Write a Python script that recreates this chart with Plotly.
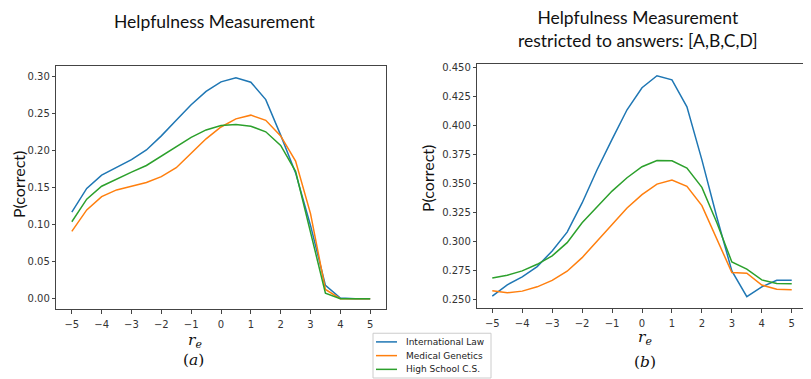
import plotly.graph_objects as go

# r_e values (x axis), same for both panels
r_e = [-5, -4.5, -4, -3.5, -3, -2.5, -2, -1.5, -1, -0.5, 0, 0.5, 1, 1.5, 2, 2.5, 3, 3.5, 4, 4.5, 5]

# (a) Helpfulness Measurement
law_a = [0.117, 0.149, 0.167, 0.177, 0.188, 0.201, 0.220, 0.241, 0.262, 0.280, 0.293,
         0.2985, 0.2925, 0.269, 0.221, 0.170, 0.099, 0.018, 0.001, 0.0, 0.0]
gen_a = [0.091, 0.120, 0.138, 0.147, 0.152, 0.157, 0.165, 0.177, 0.1965, 0.216, 0.232,
         0.243, 0.248, 0.241, 0.220, 0.186, 0.115, 0.0125, 0.0, 0.0, 0.0]
cs_a = [0.104, 0.1345, 0.152, 0.162, 0.171, 0.180, 0.193, 0.206, 0.218, 0.228, 0.234,
        0.2355, 0.233, 0.2255, 0.207, 0.172, 0.090, 0.0076, 0.0, 0.0, 0.0]

# (b) restricted to answers [A,B,C,D]
law_b = [0.2531, 0.2628, 0.2697, 0.2785, 0.292, 0.3082, 0.3333, 0.3619, 0.388, 0.4135, 0.4325,
         0.4428, 0.4393, 0.416, 0.3704, 0.321, 0.2748, 0.2526, 0.2611, 0.2668, 0.2668]
gen_b = [0.2577, 0.256, 0.2574, 0.2611, 0.2666, 0.2745, 0.2862, 0.3005, 0.315, 0.329, 0.3405,
         0.3495, 0.3531, 0.3476, 0.331, 0.302, 0.2734, 0.2728, 0.2626, 0.2591, 0.2586]
cs_b = [0.2686, 0.2711, 0.2748, 0.2805, 0.2877, 0.2991, 0.3162, 0.330, 0.3435, 0.355, 0.3645,
        0.3698, 0.3696, 0.3633, 0.3467, 0.3162, 0.2825, 0.2763, 0.2671, 0.264, 0.2637]

names = ["International Law", "Medical Genetics", "High School C.S."]
colors = ["#1f77b4", "#ff7f0e", "#2ca02c"]

fig = go.Figure()
for ys, name, c in zip([law_a, gen_a, cs_a], names, colors):
    fig.add_trace(go.Scatter(x=r_e, y=ys, mode="lines", name=name,
                             line=dict(color=c, width=1.5), xaxis="x", yaxis="y"))
for ys, name, c in zip([law_b, gen_b, cs_b], names, colors):
    fig.add_trace(go.Scatter(x=r_e, y=ys, mode="lines", name=name,
                             line=dict(color=c, width=1.5), xaxis="x2", yaxis="y2"))

# the page body has an 8px margin, so the figure is 8px smaller and positions are shifted
OFF = 8
W, H = 811 - OFF, 379 - OFF


def px(x):
    return (x - OFF) / W


def py(y):
    return 1 - (y - OFF) / H


axis_style = dict(showline=True, mirror=True, linecolor="#444", linewidth=1,
                  ticks="outside", ticklen=3.5, tickcolor="#444", tickwidth=1,
                  showgrid=False, zeroline=False,
                  tickfont=dict(family="DejaVu Sans", size=10, color="#333"))
xticks = [-5, -4, -3, -2, -1, 0, 1, 2, 3, 4, 5]

fig.update_layout(
    width=W, height=H,
    margin=dict(l=0, r=0, t=0, b=0),
    plot_bgcolor="white", paper_bgcolor="white",
    showlegend=False,
    xaxis=dict(domain=[px(56.3), px(385.7)], range=[-5.52, 5.52], tickvals=xticks,
               ticklabelstandoff=2, anchor="y", **axis_style),
    yaxis=dict(domain=[py(309), py(64)], range=[-0.0144, 0.3148],
               tickvals=[0, 0.05, 0.1, 0.15, 0.2, 0.25, 0.3], tickformat=".2f",
               anchor="x", **axis_style),
    xaxis2=dict(domain=[px(477.3), px(806.7)], range=[-5.5, 5.5], tickvals=xticks,
                ticklabelstandoff=2, anchor="y2", **axis_style),
    yaxis2=dict(domain=[py(307.7), py(62.3)], range=[0.2428, 0.4529],
                tickvals=[0.25, 0.275, 0.3, 0.325, 0.35, 0.375, 0.4, 0.425, 0.45],
                tickformat=".3f", anchor="x2", **axis_style),
)

title_font = dict(family="Lato", size=17.5, color="#111")
label_font = dict(family="Lato", size=16, color="#111")
math_font = dict(family="DejaVu Serif", size=15.5, color="#111")

ann = [
    dict(x=px(215), y=py(20), text="Helpfulness Measurement", font=title_font),
    dict(x=px(638), y=py(27.5), text="Helpfulness Measurement<br>restricted to answers: [A,B,C,D]",
         font=title_font),
    dict(x=px(18), y=py(184), text="P(correct)", textangle=-90, font=label_font),
    dict(x=px(427), y=py(178), text="P(correct)", textangle=-90, font=label_font),
    dict(x=px(195), y=py(341), text="<i>r</i><sub><i>e</i></sub>", font=math_font),
    dict(x=px(645), y=py(338), text="<i>r</i><sub><i>e</i></sub>", font=math_font),
    dict(x=px(193), y=py(360), text="(<i>a</i>)", font=math_font),
    dict(x=px(645), y=py(362), text="(<i>b</i>)", font=math_font),
]
for a in ann:
    fig.add_annotation(xref="paper", yref="paper", showarrow=False,
                       xanchor="center", yanchor="middle", **a)

# shared legend box below the panels (matplotlib-style, short line samples)
fig.add_shape(type="rect", xref="paper", yref="paper",
              x0=px(373), x1=px(491), y0=py(378), y1=py(333),
              line=dict(color="#cccccc", width=1), fillcolor="white")
for i, (name, c) in enumerate(zip(names, colors)):
    yy = py(341.7 + i * 13.8)
    fig.add_shape(type="line", xref="paper", yref="paper",
                  x0=px(376), x1=px(397), y0=yy, y1=yy, line=dict(color=c, width=1.5))
    fig.add_annotation(xref="paper", yref="paper", x=px(404), y=yy, text=name,
                       showarrow=False, xanchor="left", yanchor="middle",
                       font=dict(family="DejaVu Sans", size=9, color="#222"))

fig.write_html("out.html")
